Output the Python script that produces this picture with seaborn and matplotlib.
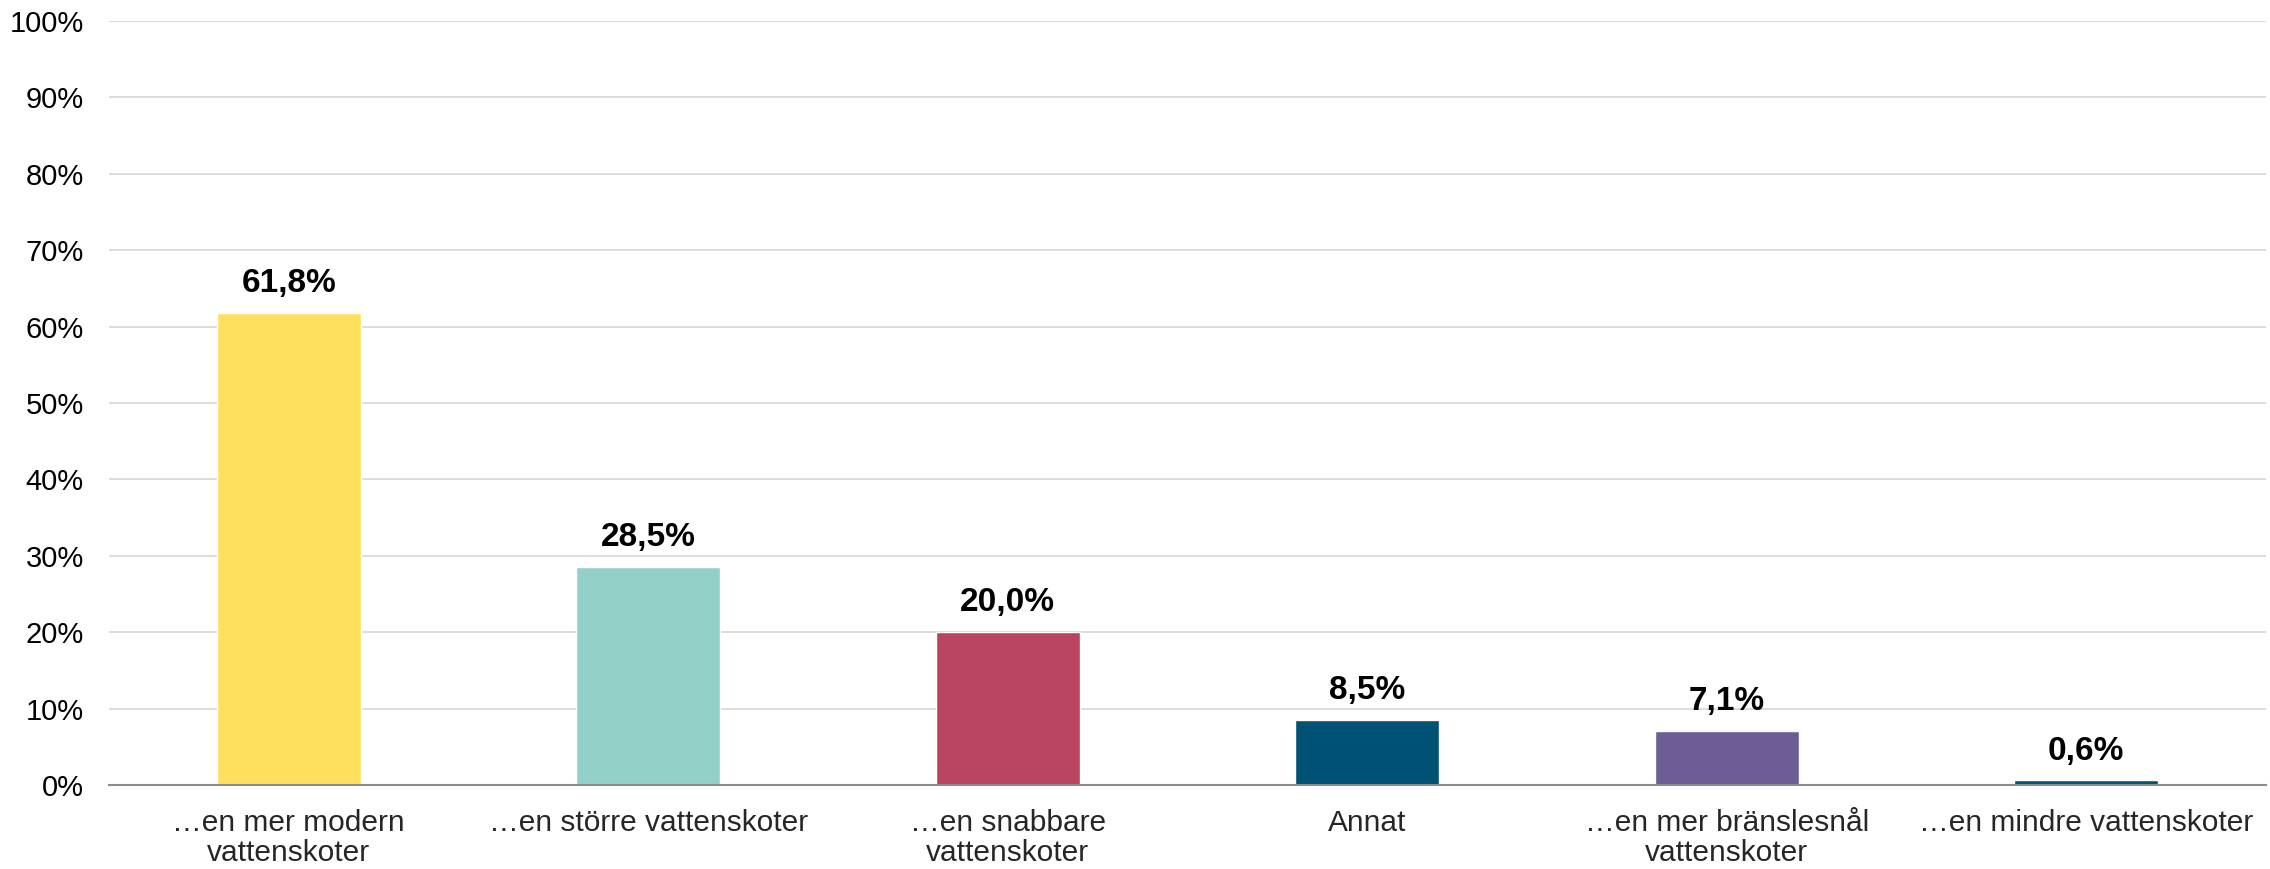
import matplotlib
matplotlib.use("Agg")
import matplotlib.pyplot as plt
import seaborn as sns
import pandas as pd

categories = [
    "…en mer modern\nvattenskoter",
    "…en större vattenskoter",
    "…en snabbare\nvattenskoter",
    "Annat",
    "…en mer bränslesnål\nvattenskoter",
    "…en mindre vattenskoter",
]
values = [61.8, 28.5, 20.0, 8.5, 7.1, 0.6]
colors = ["#FFE05E", "#93D0C8", "#BB4462", "#005275", "#6E5C96", "#005275"]
yticks = [0, 10, 20, 30, 40, 50, 60, 70, 80, 90, 100]

df = pd.DataFrame({"kategori": categories, "andel": values})

sns.set_style("white")
plt.rcParams["font.family"] = ["Liberation Sans", "DejaVu Sans"]

fig, ax = plt.subplots(figsize=(22.7, 8.69), dpi=100)
fig.subplots_adjust(left=109/2270, right=2266/2270, top=1-21/869, bottom=1-785/869)

sns.barplot(data=df, x="kategori", y="andel", hue="kategori", palette=colors,
            width=0.4, legend=False, ax=ax, saturation=1)

ax.set_xlim(-0.5, 5.5)
ax.set_ylim(0, 100)
ax.set_yticks(yticks)
ax.set_yticklabels([f"{t}%" for t in yticks], fontsize=21, color="#000000")
ax.set_xlabel("")
ax.set_ylabel("")
for lab in ax.get_xticklabels():
    lab.set_fontsize(21.5)
    lab.set_linespacing(1.1)
ax.tick_params(axis="both", length=0)
ax.tick_params(axis="y", pad=18)
ax.tick_params(axis="x", pad=17)

ax.yaxis.grid(True, color="#D9D9D9", linewidth=1.3)
ax.set_axisbelow(True)
for s in ["top", "right", "left"]:
    ax.spines[s].set_visible(False)
ax.spines["bottom"].set_color("#8C8C8C")
ax.spines["bottom"].set_linewidth(1.5)

for cont in ax.containers:
    ax.bar_label(cont, labels=[f"{v:.1f}%".replace(".", ",") for v in cont.datavalues],
                 padding=10, fontsize=24, fontweight="bold", color="#000000")

fig.savefig("out.png", dpi=100)
